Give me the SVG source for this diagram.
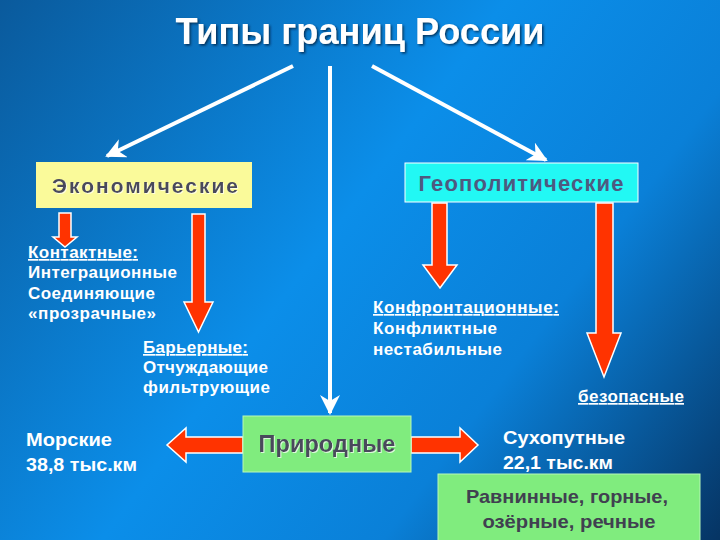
<svg xmlns="http://www.w3.org/2000/svg" width="720" height="540" viewBox="0 0 720 540">
<defs>
<linearGradient id="bg" x1="0" y1="0" x2="720" y2="540" gradientUnits="userSpaceOnUse">
<stop offset="0" stop-color="#0a5a9c"/>
<stop offset="0.45" stop-color="#0b8ee9"/>
<stop offset="0.7" stop-color="#0a80d8"/>
<stop offset="1" stop-color="#063463"/>
</linearGradient>
<filter id="sh" x="-10%" y="-30%" width="120%" height="160%">
<feDropShadow dx="1.5" dy="1.5" stdDeviation="0.8" flood-color="#002040" flood-opacity="0.8"/>
</filter>
<filter id="shl" x="-10%" y="-30%" width="120%" height="160%">
<feDropShadow dx="1" dy="1" stdDeviation="0.5" flood-color="#ffffff" flood-opacity="0.7"/>
</filter>
<marker id="wa" viewBox="0 0 10 10" refX="9" refY="5" markerWidth="5" markerHeight="5" orient="auto" markerUnits="strokeWidth">
<path d="M0,0 L10,5 L0,10 L3,5 Z" fill="#ffffff"/>
</marker>
</defs>
<style>
.t{font-family:"Liberation Sans",Arial,sans-serif;font-weight:bold;fill:#ffffff}
.u{text-decoration:underline}
.b{font-family:"Liberation Sans",Arial,sans-serif;font-weight:bold;fill:#4a4a5c;text-anchor:middle}
.wl{stroke:#ffffff;stroke-width:4;fill:none}
.ra{fill:#ff3300;stroke:#ffffff;stroke-width:1.5;stroke-linejoin:miter}
</style>
<rect width="720" height="540" fill="url(#bg)"/>
<g id="title">
<text class="t" x="360" y="44" font-size="36" text-anchor="middle" textLength="369" lengthAdjust="spacingAndGlyphs" filter="url(#sh)">Типы границ России</text>
</g>
<g id="connectors">
<line class="wl" x1="293" y1="66" x2="107" y2="156" marker-end="url(#wa)"/>
<line class="wl" x1="330" y1="66" x2="330" y2="413" marker-end="url(#wa)"/>
<line class="wl" x1="372" y1="66" x2="546" y2="160" marker-end="url(#wa)"/>
<path class="ra" d="M59,213 H71 V237 H77 L65,247 L53,237 H59 Z"/>
<path class="ra" d="M192,214 H205 V302 H213 L198.5,332 L184,302 H192 Z"/>
<path class="ra" d="M432,203 H447 V265 H457 L440,288 L423,265 H432 Z"/>
<path class="ra" d="M596,203 H613 V333 H621 L604,377 L587,333 H596 Z"/>
<path class="ra" d="M243,437 H186 V428 L167,445 L186,462 V453 H243 Z"/>
<path class="ra" d="M411,437 H460 V428 L478,445 L460,462 V453 H411 Z"/>
</g>
<g id="economic">
<rect x="36" y="162" width="216" height="46" fill="#fafa9a"/>
<text class="b" x="145" y="193" font-size="21" textLength="186" lengthAdjust="spacing" filter="url(#shl)">Экономические</text>
</g>
<g id="geopolitical">
<rect x="405" y="163" width="233" height="39" fill="#22f8f4" stroke="#ffffff" stroke-width="1"/>
<text class="b" x="521" y="191" font-size="22" textLength="205" lengthAdjust="spacing" style="fill:#4e5a80">Геополитические</text>
</g>
<g id="contact">
<text class="t u" x="28" y="258" font-size="17" textLength="110" lengthAdjust="spacing">Контактные:</text>
<text class="t" x="28" y="278" font-size="17" textLength="149" lengthAdjust="spacing">Интеграционные</text>
<text class="t" x="28" y="299" font-size="17" textLength="127" lengthAdjust="spacing">Соединяющие</text>
<text class="t" x="28" y="319" font-size="17" textLength="128" lengthAdjust="spacing">«прозрачные»</text>
</g>
<g id="barrier">
<text class="t u" x="143" y="353" font-size="17" textLength="105" lengthAdjust="spacing">Барьерные:</text>
<text class="t" x="143" y="373" font-size="17" textLength="125" lengthAdjust="spacing">Отчуждающие</text>
<text class="t" x="143" y="393" font-size="17" textLength="127" lengthAdjust="spacing">фильтрующие</text>
</g>
<g id="confront">
<text class="t u" x="373" y="313" font-size="17" textLength="186" lengthAdjust="spacing">Конфронтационные:</text>
<text class="t" x="373" y="334" font-size="17" textLength="124" lengthAdjust="spacing">Конфликтные</text>
<text class="t" x="373" y="355" font-size="17" textLength="129" lengthAdjust="spacing">нестабильные</text>
</g>
<g id="safe">
<text class="t u" x="578" y="402" font-size="17" textLength="106" lengthAdjust="spacing">безопасные</text>
</g>
<g id="natural">
<rect x="243" y="416" width="168" height="56" fill="#80ec7e" stroke="#b8f8b8" stroke-width="1"/>
<text class="b" x="327" y="452" font-size="23" textLength="137" lengthAdjust="spacingAndGlyphs" filter="url(#shl)">Природные</text>
</g>
<g id="sea">
<text class="t" x="26" y="446" font-size="19" textLength="86" lengthAdjust="spacingAndGlyphs">Морские</text>
<text class="t" x="26" y="471" font-size="19" textLength="111" lengthAdjust="spacingAndGlyphs">38,8 тыс.км</text>
</g>
<g id="land">
<text class="t" x="503" y="444" font-size="19" textLength="122" lengthAdjust="spacingAndGlyphs">Сухопутные</text>
<text class="t" x="503" y="469" font-size="19" textLength="110" lengthAdjust="spacingAndGlyphs">22,1 тыс.км</text>
</g>
<g id="landtypes">
<rect x="438" y="474" width="262" height="70" fill="#80ec7e" stroke="#b8f8b8" stroke-width="1"/>
<text class="b" x="567" y="503" font-size="19" textLength="202" lengthAdjust="spacingAndGlyphs" style="fill:#404050">Равнинные, горные,</text>
<text class="b" x="569" y="528" font-size="19" textLength="173" lengthAdjust="spacingAndGlyphs" style="fill:#404050">озёрные, речные</text>
</g>
</svg>
